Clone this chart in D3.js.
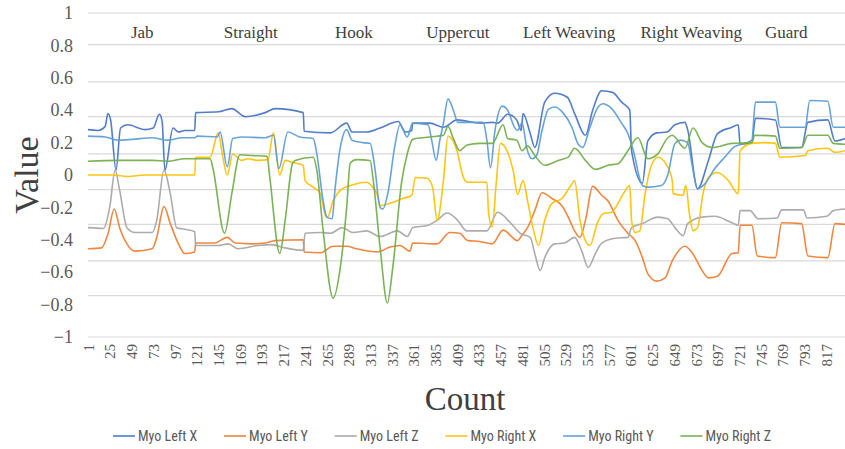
<!DOCTYPE html>
<html>
<head>
<meta charset="utf-8">
<script src="https://cdn.jsdelivr.net/npm/d3@7/dist/d3.min.js"></script>
<style>
  html, body { margin: 0; padding: 0; background: #ffffff; }
  svg { display: block; }
</style>
</head>
<body>
<div id="chart"></div>
<script>
// ---------------- DATA ----------------
const seriesNames = ["Myo Left X", "Myo Left Y", "Myo Left Z", "Myo Right X", "Myo Right Y", "Myo Right Z"];
const seriesColors = ["#4472C4", "#ED7D31", "#A5A5A5", "#FFC000", "#5B9BD5", "#70AD47"];

const xTicks = [1,25,49,73,97,121,145,169,193,217,241,265,289,313,337,361,385,409,433,457,481,505,529,553,577,601,625,649,673,697,721,745,769,793,817];
const yTicks = [1, 0.8, 0.6, 0.4, 0.2, 0, -0.2, -0.4, -0.6, -0.8, -1];
const gridLevels = [1.0, 0.805, 0.575, 0.36, 0.13, -0.09, -0.305, -0.53, -0.745, -1.0];

const gestures = ["Jab", "Straight", "Hook", "Uppercut", "Left Weaving", "Right Weaving", "Guard"];
const gestureCenters = [61, 181, 295, 410, 533, 668, 773];

const countMin = 1, countMax = 838;

// [count, value]
const myoLeftX = [[1,0.28],[12,0.275],[20,0.30],[23,0.38],[26,0.34],[32,0.03],[37,0.29],[45,0.31],[64,0.28],[73,0.29],[80,0.375],[83,0.33],[86,0.03],[95,0.29],[101,0.265],[108,0.275],[119,0.275],[120,0.385],[145,0.39],[160,0.41],[175,0.36],[197,0.385],[208,0.41],[239,0.385],[240,0.27],[269,0.26],[287,0.32],[293,0.265],[309,0.265],[324,0.29],[344,0.33],[352,0.265],[359,0.275],[360,0.32],[379,0.32],[394,0.295],[409,0.34],[435,0.32],[448,0.325],[454,0.32],[465,0.375],[475,0.34],[480,0.275],[482,0.38],[490,0.255],[495,0.17],[506,0.45],[517,0.505],[531,0.48],[539,0.38],[551,0.245],[559,0.40],[569,0.52],[581,0.51],[591,0.45],[600,0.40],[602,0.15],[614,-0.05],[620,0.21],[630,0.26],[641,0.265],[650,0.31],[661,0.325],[664,0.28],[675,-0.085],[687,0.09],[697,0.255],[713,0.295],[720,0.31],[722,0.19],[735,0.20],[739,0.35],[761,0.34],[768,0.17],[790,0.17],[797,0.325],[819,0.34],[827,0.21],[838,0.225]];

const myoLeftY = [[1,-0.455],[16,-0.45],[23,-0.365],[30,-0.21],[36,-0.325],[44,-0.425],[53,-0.47],[72,-0.455],[77,-0.385],[85,-0.195],[92,-0.30],[101,-0.425],[108,-0.485],[119,-0.475],[120,-0.42],[141,-0.42],[155,-0.385],[164,-0.42],[182,-0.425],[197,-0.42],[208,-0.405],[239,-0.40],[240,-0.475],[258,-0.48],[272,-0.44],[287,-0.44],[298,-0.455],[321,-0.475],[335,-0.445],[346,-0.435],[357,-0.47],[360,-0.42],[387,-0.425],[401,-0.355],[412,-0.36],[421,-0.405],[434,-0.41],[448,-0.425],[460,-0.34],[476,-0.405],[481,-0.37],[487,-0.325],[495,-0.22],[503,-0.11],[514,-0.145],[525,-0.19],[532,-0.26],[539,-0.345],[545,-0.385],[551,-0.28],[559,-0.07],[569,-0.125],[576,-0.16],[587,-0.28],[598,-0.36],[606,-0.405],[614,-0.51],[620,-0.61],[630,-0.655],[639,-0.635],[647,-0.53],[661,-0.44],[669,-0.48],[680,-0.59],[687,-0.635],[697,-0.625],[713,-0.485],[720,-0.48],[722,-0.31],[735,-0.31],[741,-0.50],[761,-0.51],[768,-0.295],[790,-0.30],[797,-0.50],[819,-0.51],[827,-0.30],[838,-0.305]];

const myoLeftZ = [[1,-0.325],[18,-0.33],[25,-0.20],[31,0.03],[36,-0.095],[44,-0.325],[53,-0.355],[72,-0.355],[77,-0.28],[85,0.03],[92,-0.115],[99,-0.325],[108,-0.335],[119,-0.35],[120,-0.435],[145,-0.435],[156,-0.425],[167,-0.455],[189,-0.435],[204,-0.43],[219,-0.45],[239,-0.465],[241,-0.36],[258,-0.355],[269,-0.36],[282,-0.325],[294,-0.355],[309,-0.345],[324,-0.38],[343,-0.345],[354,-0.38],[360,-0.325],[377,-0.31],[387,-0.28],[398,-0.235],[409,-0.275],[420,-0.345],[442,-0.345],[454,-0.23],[468,-0.295],[479,-0.36],[490,-0.385],[495,-0.485],[501,-0.59],[506,-0.51],[517,-0.425],[528,-0.42],[539,-0.385],[547,-0.47],[554,-0.57],[562,-0.485],[569,-0.42],[584,-0.39],[598,-0.385],[602,-0.325],[614,-0.30],[631,-0.26],[642,-0.27],[650,-0.325],[659,-0.375],[664,-0.30],[680,-0.26],[694,-0.255],[713,-0.295],[720,-0.31],[722,-0.22],[733,-0.22],[742,-0.27],[763,-0.265],[768,-0.215],[792,-0.215],[796,-0.265],[818,-0.255],[825,-0.22],[838,-0.21]];

const myoRightX = [[1,0.0],[28,0.0],[45,-0.01],[64,0.0],[89,0.0],[108,0.0],[119,0.0],[120,0.11],[136,0.11],[145,0.26],[150,0.11],[155,0.0],[161,0.13],[171,0.09],[178,0.10],[189,0.09],[200,0.095],[206,0.26],[213,0.0],[219,0.09],[228,0.075],[239,0.06],[241,-0.035],[250,-0.075],[258,-0.115],[263,-0.24],[266,-0.26],[272,-0.16],[280,-0.095],[294,-0.06],[309,-0.045],[315,-0.07],[321,-0.125],[324,-0.19],[335,-0.175],[349,-0.145],[359,-0.125],[363,-0.015],[376,-0.02],[382,-0.075],[387,-0.28],[394,-0.035],[399,0.24],[409,0.15],[416,-0.015],[421,-0.045],[442,-0.045],[444,-0.24],[448,-0.32],[452,-0.075],[457,0.195],[465,0.14],[471,0.03],[476,-0.12],[482,-0.035],[487,-0.16],[493,-0.325],[499,-0.435],[506,-0.28],[514,-0.175],[525,-0.145],[536,-0.055],[539,-0.035],[545,-0.28],[551,-0.405],[556,-0.435],[564,-0.30],[570,-0.24],[580,-0.23],[587,-0.175],[593,-0.115],[600,-0.065],[602,-0.28],[606,-0.355],[611,-0.345],[617,-0.115],[624,0.06],[631,0.11],[641,0.06],[647,-0.035],[648,-0.115],[659,-0.125],[662,-0.065],[666,-0.24],[670,-0.345],[675,-0.325],[681,-0.115],[687,-0.015],[697,0.015],[709,-0.035],[720,-0.115],[722,0.15],[735,0.195],[749,0.20],[761,0.195],[766,0.11],[794,0.12],[797,0.15],[819,0.165],[827,0.14],[838,0.15]];

const myoRightY = [[1,0.24],[20,0.235],[34,0.215],[50,0.22],[72,0.23],[89,0.215],[105,0.23],[119,0.23],[122,0.24],[144,0.235],[147,0.265],[155,0.05],[161,0.225],[171,0.235],[197,0.23],[206,0.245],[212,0.04],[222,0.265],[235,0.235],[250,0.225],[254,0.13],[261,-0.16],[265,-0.26],[271,-0.27],[274,-0.095],[280,0.17],[287,0.28],[293,0.215],[305,0.20],[313,0.195],[318,0.05],[324,-0.20],[327,-0.21],[333,-0.10],[340,0.17],[346,0.31],[354,0.235],[360,0.32],[377,0.31],[381,0.215],[386,0.09],[390,0.215],[394,0.32],[399,0.47],[405,0.40],[410,0.325],[438,0.325],[442,0.215],[446,0.045],[451,0.275],[459,0.425],[465,0.40],[473,0.29],[476,0.275],[481,0.32],[486,0.17],[492,0.10],[497,0.12],[503,0.275],[510,0.405],[517,0.42],[526,0.385],[536,0.295],[543,0.19],[548,0.17],[556,0.295],[565,0.42],[570,0.44],[580,0.41],[591,0.32],[598,0.255],[604,0.15],[614,-0.065],[620,-0.075],[635,-0.065],[642,0.0],[650,0.195],[656,0.215],[664,0.20],[669,0.06],[675,-0.085],[683,-0.055],[694,0.04],[705,0.11],[716,0.175],[727,0.195],[735,0.215],[739,0.45],[761,0.45],[766,0.295],[794,0.295],[799,0.46],[819,0.455],[825,0.295],[838,0.295]];

const myoRightZ = [[1,0.085],[34,0.09],[72,0.09],[89,0.085],[108,0.10],[119,0.10],[136,0.10],[139,0.045],[152,-0.36],[160,-0.115],[169,0.125],[182,0.12],[199,0.115],[202,-0.015],[213,-0.485],[219,-0.28],[227,0.07],[230,0.09],[250,0.11],[254,0.03],[261,-0.345],[272,-0.76],[280,-0.57],[287,-0.20],[291,0.075],[298,0.095],[313,0.09],[316,-0.015],[324,-0.45],[332,-0.79],[338,-0.57],[348,-0.035],[354,0.13],[360,0.22],[379,0.235],[394,0.245],[399,0.30],[405,0.225],[412,0.15],[420,0.185],[434,0.195],[448,0.195],[460,0.31],[465,0.225],[475,0.215],[481,0.15],[487,0.18],[495,0.12],[506,0.06],[521,0.09],[532,0.11],[539,0.165],[551,0.09],[562,0.035],[576,0.06],[587,0.07],[598,0.15],[609,0.23],[620,0.10],[631,0.13],[642,0.23],[647,0.245],[661,0.165],[670,0.29],[680,0.20],[691,0.17],[713,0.195],[735,0.20],[738,0.245],[761,0.24],[766,0.165],[790,0.17],[797,0.245],[819,0.245],[825,0.195],[838,0.19]];

const seriesData = [myoLeftX, myoLeftY, myoLeftZ, myoRightX, myoRightY, myoRightZ];

// ---------------- CHART ----------------
const W = 845, H = 449;
const svg = d3.select("#chart").append("svg").attr("width", W).attr("height", H);

const serif = "'Liberation Serif', 'Times New Roman', serif";
const sans = "'Liberation Sans Narrow', 'Roboto Condensed', 'Roboto', 'Liberation Sans', sans-serif";

const x = d3.scaleLinear().domain([countMin, countMax]).range([88, 845]);
const y = d3.scaleLinear().domain([-1, 1]).range([337, 13]);

// gridlines
svg.append("g").selectAll("line").data(gridLevels).join("line")
  .attr("x1", x(countMin)).attr("x2", W)
  .attr("y1", d => y(d)).attr("y2", d => y(d))
  .attr("stroke", "#d9d9d9").attr("stroke-width", 1.2);

// y axis labels
const yAxis = d3.axisLeft(y).tickValues(yTicks).tickSize(0).tickPadding(0)
  .tickFormat(d => d3.format("")(+d.toFixed(1)));
const gy = svg.append("g").attr("transform", "translate(73,0)").call(yAxis);
gy.attr("font-family", null).attr("font-size", null);
gy.select(".domain").remove();
gy.selectAll("text").style("font-family", serif).style("font-size", "18px").attr("fill", "#595959");

// x axis labels
const xAxis = d3.axisBottom(x).tickValues(xTicks).tickSize(0).tickPadding(0).tickFormat(d3.format("d"));
const gx = svg.append("g").attr("transform", "translate(0,344)").call(xAxis);
gx.attr("font-family", null).attr("font-size", null);
gx.select(".domain").remove();
gx.selectAll("text")
  .style("font-family", serif).style("font-size", "15px").attr("fill", "#595959")
  .attr("text-anchor", "end").attr("transform", "rotate(-90)")
  .attr("x", 0).attr("y", 0).attr("dy", "0.35em");

// lines
const line = d3.line().x(d => x(d[0])).y(d => y(d[1])).curve(d3.curveMonotoneX);
svg.append("g").selectAll("path").data(seriesData).join("path")
  .attr("d", line).attr("fill", "none")
  .attr("stroke", (d, i) => seriesColors[i])
  .attr("stroke-width", 1.6).attr("stroke-linejoin", "round")
  .attr("opacity", 0.92);

// gesture labels
svg.append("g").selectAll("text").data(gestures).join("text")
  .attr("x", (d, i) => x(gestureCenters[i])).attr("y", 38)
  .attr("text-anchor", "middle")
  .style("font-family", serif).style("font-size", "17px").attr("fill", "#404040")
  .text(d => d);

// axis titles
svg.append("text").attr("x", 465).attr("y", 410).attr("text-anchor", "middle")
  .style("font-family", serif).style("font-size", "33px").attr("fill", "#404040").text("Count");
svg.append("text").attr("transform", "translate(38,175) rotate(-90)").attr("text-anchor", "middle")
  .style("font-family", serif).style("font-size", "34px").attr("fill", "#404040").text("Value");

// legend
const lg = svg.append("g");
const items = lg.selectAll("g").data(seriesNames).join("g");
items.append("line").attr("x1", 0).attr("x2", 22).attr("y1", 0).attr("y2", 0)
  .attr("stroke", (d, i) => seriesColors[i]).attr("stroke-width", 1.5);
items.append("text").attr("x", 25).attr("y", 0).attr("dy", "0.35em")
  .style("font-family", sans).style("font-size", "14px").attr("fill", "#595959").text(d => d);
const widths = [];
items.each(function () { widths.push(25 + d3.select(this).select("text").node().getComputedTextLength()); });
const totalTarget = 658;
const gap = (totalTarget - d3.sum(widths)) / (widths.length - 1);
let cx = 113;
items.attr("transform", (d, i) => { const t = `translate(${cx},436)`; cx += widths[i] + gap; return t; });
</script>
</body>
</html>
